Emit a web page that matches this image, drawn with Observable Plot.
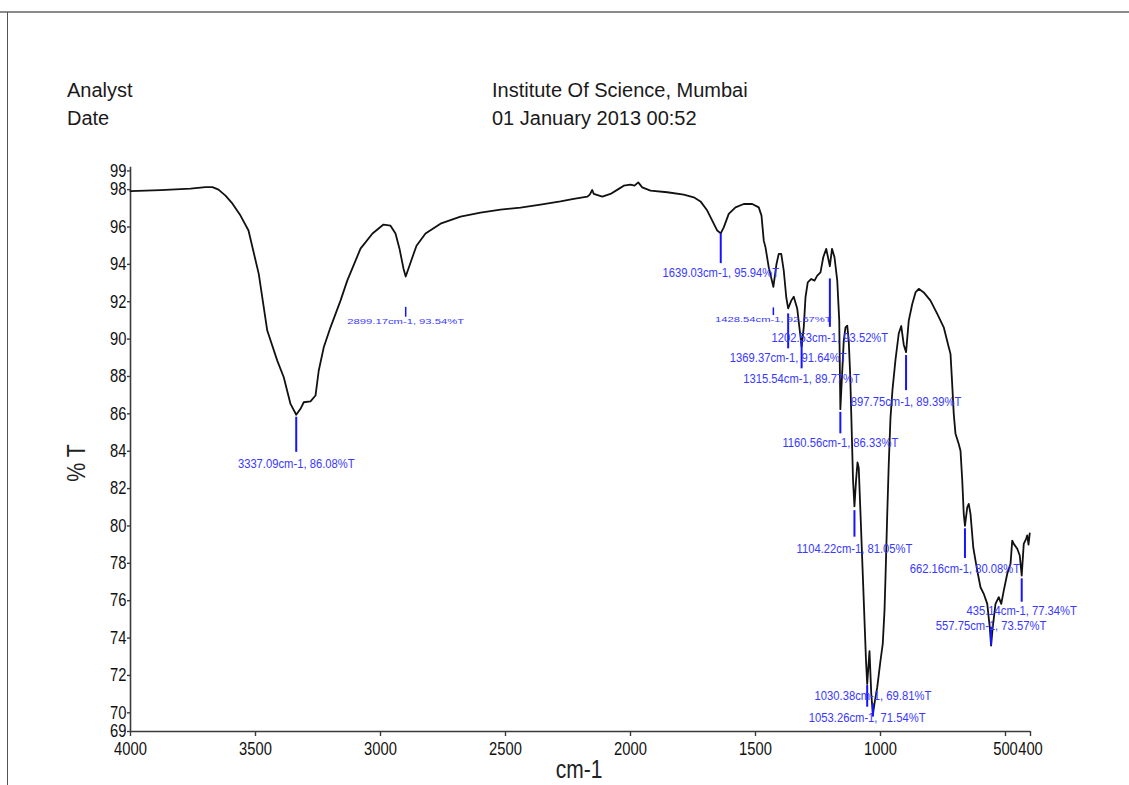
<!DOCTYPE html>
<html>
<head>
<meta charset="utf-8">
<script src="https://cdn.jsdelivr.net/npm/d3@7"></script>
<script src="https://cdn.jsdelivr.net/npm/@observablehq/plot@0.6"></script>
<style>
  html, body { margin: 0; padding: 0; background: #fff; overflow: hidden; width: 1129px; height: 785px; }
  #page { position: relative; width: 1129px; height: 785px; font-family: "Liberation Sans", Arial, sans-serif; }
  #chart { position: absolute; left: 0; top: 0; }
  .hdr { position: absolute; font-size: 20px; line-height: 1; color: #1a1a1a; white-space: nowrap; }
  .axlabel { position: absolute; font-family: "Liberation Sans", Arial, sans-serif; font-size: 26px; line-height: 1; color: #222; white-space: nowrap; }
  #topline { position: absolute; left: 0; top: 11px; width: 1129px; height: 2px; background: #8a8a8a; }
  #leftline { position: absolute; left: 7px; top: 12px; width: 1px; height: 773px; background: #555; }
</style>
</head>
<body>
<div id="page">
  <div id="topline"></div>
  <div id="leftline"></div>
  <div class="hdr" style="left:67px; top:80px;">Analyst</div>
  <div class="hdr" style="left:67px; top:108px;">Date</div>
  <div class="hdr" style="left:492px; top:80px;">Institute Of Science, Mumbai</div>
  <div class="hdr" style="left:492px; top:108px;">01 January 2013 00:52</div>
  <div id="chart"></div>
  <div class="axlabel" style="left:76px; top:463px; transform: translate(-50%,-50%) rotate(-90deg) scaleX(0.82);">% T</div>
  <div class="axlabel" style="left:579px; top:757px; font-size:25px; transform: translateX(-50%) scaleX(0.84);">cm-1</div>
</div>
<script>
// ---- spectrum (wavenumber in cm-1, transmittance in %T) ----
const wavenumber = [
  4000, 3880, 3760, 3700, 3672, 3648, 3620, 3592, 3560, 3528, 3487, 3453, 3413, 3387, 3360,
  3337.09, 3320, 3307, 3280, 3260, 3247, 3227, 3200, 3160, 3133, 3080, 3032, 2988, 2960, 2940,
  2924, 2908, 2899.17, 2880, 2856, 2820, 2760, 2680, 2600, 2520, 2440, 2360, 2280, 2227, 2173,
  2163, 2153, 2147, 2113, 2080, 2047, 2027, 2000, 1984, 1969, 1953, 1920, 1853, 1787, 1747,
  1720, 1693, 1673, 1653, 1639.03, 1627, 1607, 1580, 1547, 1513, 1487, 1476, 1467, 1460, 1447,
  1428.54, 1416, 1407, 1397, 1387, 1377, 1369.37, 1357, 1347, 1333, 1323, 1315.54, 1307, 1300, 1291,
  1277, 1264, 1253, 1240, 1229, 1217, 1202.53, 1194, 1184, 1173, 1165, 1160.56, 1147, 1140, 1133,
  1127, 1121, 1115, 1110, 1104.22, 1098, 1092, 1087, 1080, 1073, 1068, 1063, 1058, 1053.26, 1044,
  1037, 1030.38, 1024, 1013, 1000, 991, 984, 980, 973, 967, 960, 952, 940, 927, 917,
  907, 897.75, 887, 873, 860, 847, 827, 800, 773, 747, 727, 720, 714, 707, 700,
  687, 680, 673, 667, 662.16, 653, 647, 640, 629, 620, 613, 600, 587, 573, 563,
  557.75, 551, 540, 527, 517, 507, 493, 480, 473, 467, 453, 443, 435.14, 427, 418,
  413, 408, 403
];
const transmittance = [
  97.92, 97.97, 98.05, 98.13, 98.13, 98.0, 97.68, 97.25, 96.61, 95.81, 93.49, 90.46, 88.85, 87.96, 86.53,
  85.95, 86.27, 86.62, 86.67, 86.98, 88.32, 89.56, 90.63, 92.06, 93.13, 94.84, 95.65, 96.13, 96.07, 95.65,
  94.84, 93.77, 93.35, 94.09, 95.0, 95.65, 96.18, 96.55, 96.77, 96.93, 97.04, 97.2, 97.37, 97.5, 97.62,
  97.73, 97.98, 97.77, 97.62, 97.77, 98.04, 98.21, 98.27, 98.21, 98.39, 98.12, 97.95, 97.86, 97.73, 97.59,
  97.37, 96.88, 96.34, 95.81, 95.66, 95.98, 96.7, 97.05, 97.23, 97.23, 97.05, 96.61, 95.27, 94.91, 93.84,
  92.8, 94.02, 94.56, 94.56, 93.67, 92.24, 91.64, 92.06, 92.27, 91.62, 90.46, 89.6, 90.63, 92.24, 93.04,
  93.22, 93.13, 93.4, 93.57, 94.38, 94.83, 93.9, 94.83, 94.38, 93.13, 90.99, 86.25, 89.92, 90.63, 90.72,
  89.9, 88.0, 85.0, 82.5, 81.05, 82.4, 83.4, 83.1, 80.65, 78.15, 76.38, 74.58, 72.8, 71.54, 73.3,
  71.03, 69.9, 70.5, 71.37, 72.8, 73.69, 75.47, 77.26, 80.65, 83.32, 85.8, 87.3, 88.9, 90.3, 90.7,
  89.7, 89.3, 90.99, 91.88, 92.5, 92.69, 92.5, 92.06, 91.35, 90.63, 89.56, 89.21, 87.78, 86.0, 84.93,
  84.39, 84.03, 82.43, 80.65, 80.0, 81.0, 81.18, 80.65, 78.86, 78.15, 77.61, 76.72, 76.37, 75.83, 74.58,
  73.6, 74.58, 75.83, 76.19, 75.83, 76.54, 77.44, 77.97, 79.22, 79.04, 78.78, 78.42, 77.34, 79.04, 79.3,
  79.5, 79.0, 79.6
];

// ---- peak annotations ----
const peakWn    = [3337.09, 1639.03, 1202.53, 1369.37, 1315.54, 897.75, 1160.56, 1104.22, 662.16, 435.14, 557.75, 1030.38, 1053.26];
const peakPct   = ["86.08", "95.94", "93.52", "91.64", "89.77", "89.39", "86.33", "81.05", "80.08", "77.34", "73.57", "69.81", "71.54"];
const peakWnTxt = ["3337.09", "1639.03", "1202.53", "1369.37", "1315.54", "897.75", "1160.56", "1104.22", "662.16", "435.14", "557.75", "1030.38", "1053.26"];
const markTop   = [85.82, 95.64, 93.22, 91.35, 89.92, 89.12, 86.08, 80.82, 79.85, 77.17, 74.58, 70.48, 71.46];
const markBot   = [83.94, 94.04, 90.63, 89.48, 88.41, 87.24, 84.93, 79.40, 78.26, 75.92, 73.60, 69.77, 70.30];
const labelPct  = [83.36, 93.55, 90.10, 89.03, 87.87, 86.66, 84.45, 78.78, 77.70, 75.47, 74.67, 70.93, 69.77];

const minorWn    = [2899.17, 1428.54];
const minorWnTxt = ["2899.17", "1428.54"];
const minorPct   = ["93.54", "92.67"];
const minorTop   = [91.70, 91.67];
const minorBot   = [91.17, 91.26];
const minorLabel = [90.90, 91.03];

// ---- axes ----
const xTicks = [4000, 3500, 3000, 2500, 2000, 1500, 1000, 500, 400];
const yTicks = [69, 70, 72, 74, 76, 78, 80, 82, 84, 86, 88, 90, 92, 94, 96, 98, 99];

const series = wavenumber.map((w, i) => ({w, t: transmittance[i]}));
const peaks = peakWn.map((w, i) => ({
  w, top: markTop[i], bot: markBot[i], ly: labelPct[i],
  label: `${peakWnTxt[i]}cm-1, ${peakPct[i]}%T`
}));
const minors = minorWn.map((w, i) => ({
  w, top: minorTop[i], bot: minorBot[i], ly: minorLabel[i],
  label: `${minorWnTxt[i]}cm-1, ${minorPct[i]}%T`
}));
const minorSet = new Set(minors.map(d => d.label));

const chart = Plot.plot({
  width: 1129,
  height: 785,
  marginLeft: 130,
  marginRight: 99,
  marginTop: 166.7,
  marginBottom: 54,
  x: {domain: [4000, 400], axis: null},
  y: {domain: [69, 99.2], axis: null},
  style: {fontFamily: '"Liberation Sans", Arial, sans-serif', fontSize: "18px", color: "#111", background: "transparent", overflow: "visible"},
  marks: [
    Plot.ruleX([4000], {y1: 69, y2: 99.2, stroke: "#3a3a3a", strokeWidth: 1.6}),
    Plot.ruleY([69], {x1: 4000, x2: 400, stroke: "#3a3a3a", strokeWidth: 1.6}),
    Plot.axisX({ticks: xTicks, tickSize: 5, tickPadding: 6, tickFormat: d3.format("d"), label: null, stroke: "#3a3a3a", strokeWidth: 1.4, fontSize: 18}),
    Plot.axisY({ticks: yTicks, tickSize: 3, tickPadding: 1, tickFormat: d3.format("d"), label: null, stroke: "#3a3a3a", strokeWidth: 1.4, fontSize: 18}),
    Plot.line(series, {x: "w", y: "t", stroke: "#111", strokeWidth: 1.8}),
    Plot.ruleX(peaks, {x: "w", y1: "top", y2: "bot", stroke: "#1414ff", strokeWidth: 2}),
    Plot.text(peaks, {x: "w", y: "ly", text: "label", fill: "#3838ff", fontSize: 13.7, textAnchor: "middle"}),
    Plot.ruleX(minors, {x: "w", y1: "top", y2: "bot", stroke: "#1414ff", strokeWidth: 1.5}),
    Plot.text(minors, {x: "w", y: "ly", text: "label", fill: "#3838ff", fontSize: 13.7, textAnchor: "middle"})
  ]
});

// The printout uses a condensed face: compress every chart text horizontally
// around its own anchor (minor peak labels are also squashed vertically).
function squeeze(t, sx, sy) {
  const tr = t.getAttribute("transform");
  if (tr && tr.includes("translate")) {
    t.setAttribute("transform", `${tr} scale(${sx},${sy})`);
  } else {
    const x = parseFloat(t.getAttribute("x")) || 0;
    const y = parseFloat(t.getAttribute("y")) || 0;
    t.setAttribute("transform", `translate(${x},${y}) scale(${sx},${sy}) translate(${-x},${-y})`);
  }
}
chart.querySelectorAll("text").forEach(t => {
  const minor = minorSet.has(t.textContent);
  squeeze(t, 0.82, minor ? 0.5 : 1);
});
document.getElementById("chart").appendChild(chart);
</script>
</body>
</html>
